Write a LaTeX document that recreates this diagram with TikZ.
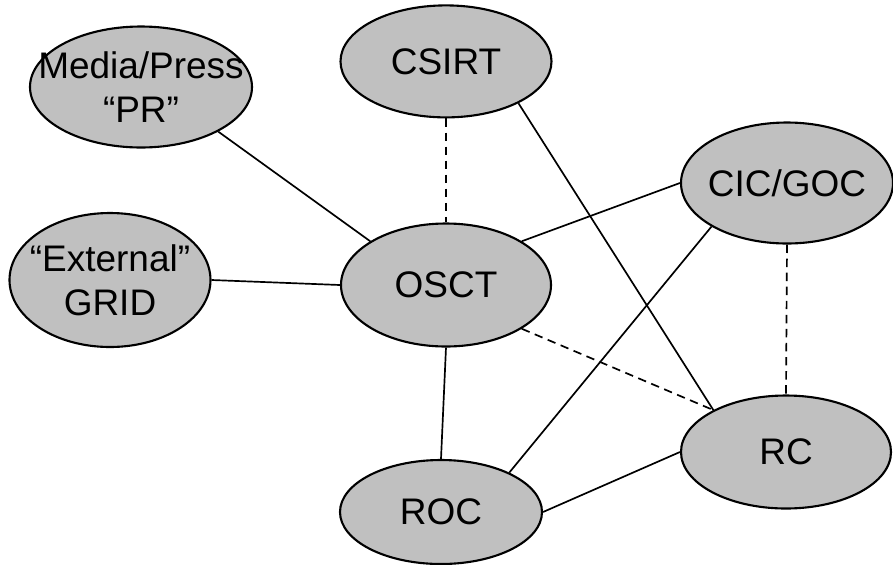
\documentclass[tikz,border=0pt]{standalone}
\usepackage{fontspec}
\setmainfont{Liberation Sans}
\usepackage{tikz}
\usetikzlibrary{shapes.geometric,positioning}
\definecolor{blobgray}{HTML}{C0C0C0}
\tikzset{
  orgnode/.style={
    ellipse, draw=black, fill=blobgray, line width=1.5pt,
    inner sep=0pt,
    label={[orgtext]center:#1}
  },
  orgtext/.style={
    font=\fontsize{26.3}{31}\selectfont, align=center, text=black
  },
  solidlink/.style={
    line width=1.2pt, color=black
  },
  dashlink/.style={
    line width=1.2pt, color=black, dash pattern=on 6pt off 4pt
  },
}

\begin{document}
\begin{tikzpicture}
  \useasboundingbox (-11.15,-6.975) rectangle (11.175,7.125);

  \node[orgnode={OSCT}, minimum width=5.25cm, minimum height=3.075cm]
    (osct) at (0,0) {};
  \node[orgnode={CSIRT}, minimum width=5.275cm, minimum height=2.8cm,
    above=2.6cm of osct] (csirt) {};
  \node[orgnode={Media/Press\\“PR”}, minimum width=5.55cm,
    minimum height=3.025cm] (pr) at (-7.625,4.95) {};
  \node[orgnode={“External”\\GRID}, minimum width=5.025cm,
    minimum height=3.35cm] (grid) at (-8.4,0.125) {};
  \node[orgnode={CIC/GOC}, minimum width=5.3cm, minimum height=3.025cm]
    (cic) at (8.525,2.55) {};
  \node[orgnode={RC}, minimum width=5.25cm, minimum height=2.825cm]
    (rc) at (8.5,-4.175) {};
  \node[orgnode={ROC}, minimum width=5.05cm, minimum height=2.6cm]
    (roc) at (-0.125,-5.675) {};

  % solid ties
  \draw[solidlink] (pr.-30) -- (osct.150);
  \draw[solidlink] (grid.east) -- (osct.west);
  \draw[solidlink] (osct.30) -- (cic.west);
  \draw[solidlink] (osct.south) -- (roc.north);
  \draw[solidlink] (csirt.-30) -- (rc.150);
  \draw[solidlink] (cic.210) -- (roc.30);
  \draw[solidlink] (roc.east) -- (rc.west);

  % dashed ties
  \draw[dashlink] (csirt.south) -- (osct.north);
  \draw[dashlink] (osct.-30) -- (rc.150);
  \draw[dashlink] (cic.south) -- (rc.north);
\end{tikzpicture}
\end{document}
